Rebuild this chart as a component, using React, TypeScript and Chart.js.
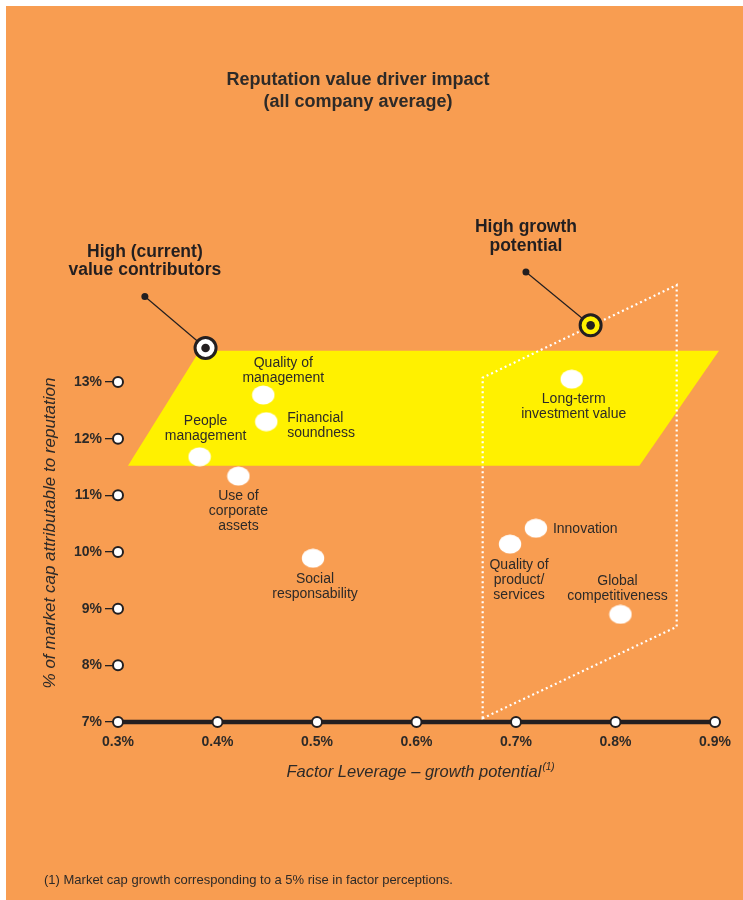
import React, { useEffect, useRef } from "react";
import { Chart, registerables } from "chart.js";

Chart.register(...registerables);

// Reputation drivers: factor leverage (x, %) against share of market cap (y, %)
const drivers = [
  "Quality of management",
  "Financial soundness",
  "People management",
  "Use of corporate assets",
  "Social responsability",
  "Long-term investment value",
  "Innovation",
  "Quality of product/services",
  "Global competitiveness",
];
const leverage = [0.446, 0.449, 0.382, 0.421, 0.496, 0.756, 0.72, 0.694, 0.805];
const capShare = [12.77, 12.3, 11.68, 11.34, 9.89, 13.05, 10.42, 10.14, 8.9];

// Wrapped label text for each driver
const driverLines = [
  ["Quality of", "management"],
  ["Financial", "soundness"],
  ["People", "management"],
  ["Use of", "corporate", "assets"],
  ["Social", "responsability"],
  ["Long-term", "investment value"],
  ["Innovation"],
  ["Quality of", "product/", "services"],
  ["Global", "competitiveness"],
];

const xTickValues = [0.3, 0.4, 0.5, 0.6, 0.7, 0.8, 0.9];
const yTickValues = [7, 8, 9, 10, 11, 12, 13];

// Zone outlines, corner points in data units
const currentZoneX = [0.31, 0.382, 0.904, 0.824];
const currentZoneY = [11.52, 13.55, 13.55, 11.52];
const growthZoneX = [0.6665, 0.6665, 0.8615, 0.8615];
const growthZoneY = [7.065, 13.076, 14.71, 8.68];

// Callouts: target marker and the dot its leader line starts from
const calloutTitles = [
  ["High (current)", "value contributors"],
  ["High growth", "potential"],
];
const calloutTargetX = [0.388, 0.775];
const calloutTargetY = [13.6, 14.0];
const calloutDotX = [0.327, 0.71];
const calloutDotY = [14.51, 14.94];

const chartTitle = ["Reputation value driver impact", "(all company average)"];
const xTitle = "Factor Leverage \u2013 growth potential";
const xTitleNote = "(1)";
const yTitle = "% of market cap attributable to reputation";
const footnote = "(1) Market cap growth corresponding to a 5% rise in factor perceptions.";

// Label placement relative to each point (pixels)
const labelPlacement: { align: CanvasTextAlign; dx: number; dy: number }[] = [
  { align: "center", dx: 20, dy: -32 },
  { align: "left", dx: 21, dy: -4 },
  { align: "center", dx: 6, dy: -36 },
  { align: "center", dx: 0, dy: 20 },
  { align: "center", dx: 2, dy: 21 },
  { align: "center", dx: 2, dy: 20 },
  { align: "left", dx: 17, dy: 1 },
  { align: "center", dx: 9, dy: 21 },
  { align: "center", dx: -3, dy: -33 },
];

const ORANGE = "#F89D51";
const YELLOW = "#FFF100";
const INK = "#2d2a28";
const FONT = "'Liberation Sans', Arial, Helvetica, sans-serif";

function makeEllipse(): HTMLCanvasElement {
  const c = document.createElement("canvas");
  c.width = 24;
  c.height = 20;
  const g = c.getContext("2d")!;
  g.fillStyle = "#ffffff";
  g.beginPath();
  g.ellipse(12, 10, 11.2, 9.5, 0, 0, Math.PI * 2);
  g.fill();
  return c;
}

const panelPlugin = {
  id: "panel",
  beforeDraw(chart: any) {
    const { ctx, width, height } = chart;
    ctx.save();
    ctx.fillStyle = "#ffffff";
    ctx.fillRect(0, 0, width, height);
    ctx.fillStyle = ORANGE;
    ctx.fillRect(6, 6, width - 6, height - 6);
    ctx.restore();
  },
  beforeDatasetsDraw(chart: any) {
    const { ctx, scales } = chart;
    const xs = scales.x;
    const ys = scales.y;
    const px = (v: number) => xs.getPixelForValue(v);
    const py = (v: number) => ys.getPixelForValue(v);
    ctx.save();
    // current value zone
    ctx.fillStyle = YELLOW;
    ctx.beginPath();
    currentZoneX.forEach((x, i) => {
      const X = px(x);
      const Y = py(currentZoneY[i]);
      if (i === 0) ctx.moveTo(X, Y);
      else ctx.lineTo(X, Y);
    });
    ctx.closePath();
    ctx.fill();

    // growth zone outline
    ctx.strokeStyle = "#ffffff";
    ctx.lineWidth = 2.2;
    ctx.setLineDash([2, 3]);
    ctx.beginPath();
    growthZoneX.forEach((x, i) => {
      const X = px(x);
      const Y = py(growthZoneY[i]);
      if (i === 0) ctx.moveTo(X, Y);
      else ctx.lineTo(X, Y);
    });
    ctx.closePath();
    ctx.stroke();
    ctx.setLineDash([]);

    // axes: heavy baseline with ringed tick markers
    const left = px(xTickValues[0]);
    const right = px(xTickValues[xTickValues.length - 1]);
    const base = py(yTickValues[0]);
    ctx.strokeStyle = "#231f20";
    ctx.lineWidth = 4.5;
    ctx.beginPath();
    ctx.moveTo(left, base);
    ctx.lineTo(right, base);
    ctx.stroke();
    const ring = (X: number, Y: number) => {
      ctx.beginPath();
      ctx.arc(X, Y, 5, 0, Math.PI * 2);
      ctx.fillStyle = "#ffffff";
      ctx.fill();
      ctx.lineWidth = 2;
      ctx.strokeStyle = "#231f20";
      ctx.stroke();
    };
    xTickValues.forEach((v) => ring(px(v), base));
    yTickValues.slice(1).forEach((v) => ring(left, py(v)));
    ctx.restore();
  },
  afterDatasetsDraw(chart: any) {
    const { ctx, scales } = chart;
    const xs = scales.x;
    const ys = scales.y;
    const px = (v: number) => xs.getPixelForValue(v);
    const py = (v: number) => ys.getPixelForValue(v);
    ctx.save();

    // driver labels
    ctx.fillStyle = INK;
    ctx.font = `14px ${FONT}`;
    ctx.textBaseline = "middle";
    driverLines.forEach((lines, i) => {
      const p = labelPlacement[i];
      ctx.textAlign = p.align;
      const X = px(leverage[i]) + p.dx;
      const Y = py(capShare[i]) + p.dy;
      lines.forEach((t, j) => ctx.fillText(t, X, Y + j * 15));
    });

    // callouts
    calloutTitles.forEach((lines, i) => {
      const dX = px(calloutDotX[i]);
      const dY = py(calloutDotY[i]);
      const tX = px(calloutTargetX[i]);
      const tY = py(calloutTargetY[i]);
      ctx.strokeStyle = "#231f20";
      ctx.lineWidth = 1.2;
      ctx.beginPath();
      ctx.moveTo(dX, dY);
      ctx.lineTo(tX, tY);
      ctx.stroke();
      ctx.fillStyle = "#231f20";
      ctx.beginPath();
      ctx.arc(dX, dY, 3.5, 0, Math.PI * 2);
      ctx.fill();
      ctx.beginPath();
      ctx.arc(tX, tY, 10.5, 0, Math.PI * 2);
      ctx.fillStyle = i === 0 ? "#ffffff" : YELLOW;
      ctx.fill();
      ctx.lineWidth = 3;
      ctx.strokeStyle = "#231f20";
      ctx.stroke();
      ctx.fillStyle = "#231f20";
      ctx.beginPath();
      ctx.arc(tX, tY, 4.3, 0, Math.PI * 2);
      ctx.fill();

      ctx.font = `bold 17.5px ${FONT}`;
      ctx.textAlign = "center";
      ctx.textBaseline = "middle";
      lines.forEach((t, j) => ctx.fillText(t, dX, dY - 44.5 + j * 18.5));
    });

    // title
    ctx.fillStyle = INK;
    ctx.font = `bold 18px ${FONT}`;
    ctx.textAlign = "center";
    chartTitle.forEach((t, j) => ctx.fillText(t, 358, 80 + j * 22));

    // axis titles
    ctx.font = `italic 16.5px ${FONT}`;
    const mainW = ctx.measureText(xTitle).width;
    ctx.font = `italic 10px ${FONT}`;
    const noteW = ctx.measureText(xTitleNote).width;
    const startX = 420 - (mainW + noteW) / 2;
    ctx.textAlign = "left";
    ctx.font = `italic 16.5px ${FONT}`;
    ctx.fillText(xTitle, startX, 772);
    ctx.font = `italic 10px ${FONT}`;
    ctx.fillText(xTitleNote, startX + mainW + 1, 767);

    ctx.save();
    ctx.translate(50, 533);
    ctx.rotate(-Math.PI / 2);
    ctx.font = `italic 17px ${FONT}`;
    ctx.textAlign = "center";
    ctx.fillText(yTitle, 0, 0);
    ctx.restore();

    // footnote
    ctx.font = `13px ${FONT}`;
    ctx.textAlign = "left";
    ctx.fillText(footnote, 44, 880);
    ctx.restore();
  },
};

export default function App() {
  const ref = useRef<HTMLCanvasElement | null>(null);

  useEffect(() => {
    if (!ref.current) return;
    const dot = makeEllipse();
    const chart = new Chart(ref.current, {
      type: "scatter",
      data: {
        datasets: [
          {
            label: "Reputation drivers",
            data: drivers.map((_, i) => ({ x: leverage[i], y: capShare[i] })),
            pointStyle: dot as any,
            pointRadius: 10,
            backgroundColor: "#ffffff",
            borderWidth: 0,
          },
        ],
      },
      options: {
        animation: false,
        responsive: false,
        events: [],
        layout: { padding: { left: 0, right: 28, top: 268.67, bottom: 138 } },
        plugins: {
          legend: { display: false },
          tooltip: { enabled: false },
        },
        scales: {
          x: {
            type: "linear",
            min: 0.3,
            max: 0.9,
            afterBuildTicks: (s: any) => {
              s.ticks = xTickValues.map((v) => ({ value: v }));
            },
            afterFit: (s: any) => {
              s.height = 40;
            },
            grid: { display: false, drawTicks: false },
            border: { display: false },
            ticks: {
              padding: 12,
              autoSkip: false,
              maxRotation: 0,
              color: INK,
              font: { family: FONT, size: 14, weight: "bold" },
              callback: (v: any) => `${Number(v).toFixed(1)}%`,
            },
          },
          y: {
            type: "linear",
            min: 7,
            max: 15,
            afterBuildTicks: (s: any) => {
              s.ticks = yTickValues.map((v) => ({ value: v }));
            },
            afterFit: (s: any) => {
              s.width = 118;
            },
            grid: {
              drawOnChartArea: false,
              drawTicks: true,
              tickLength: 13,
              color: "#231f20",
              lineWidth: 1.3,
            },
            border: { display: false },
            ticks: {
              padding: 3,
              color: INK,
              font: { family: FONT, size: 14, weight: "bold" },
              callback: (v: any) => `${v}%`,
            },
          },
        },
      },
      plugins: [panelPlugin],
    });
    return () => chart.destroy();
  }, []);

  return (
    <div style={{ position: "absolute", left: 0, top: 0, width: 743, height: 900 }}>
      <canvas ref={ref} width={743} height={900} style={{ width: 743, height: 900, display: "block" }} />
    </div>
  );
}
